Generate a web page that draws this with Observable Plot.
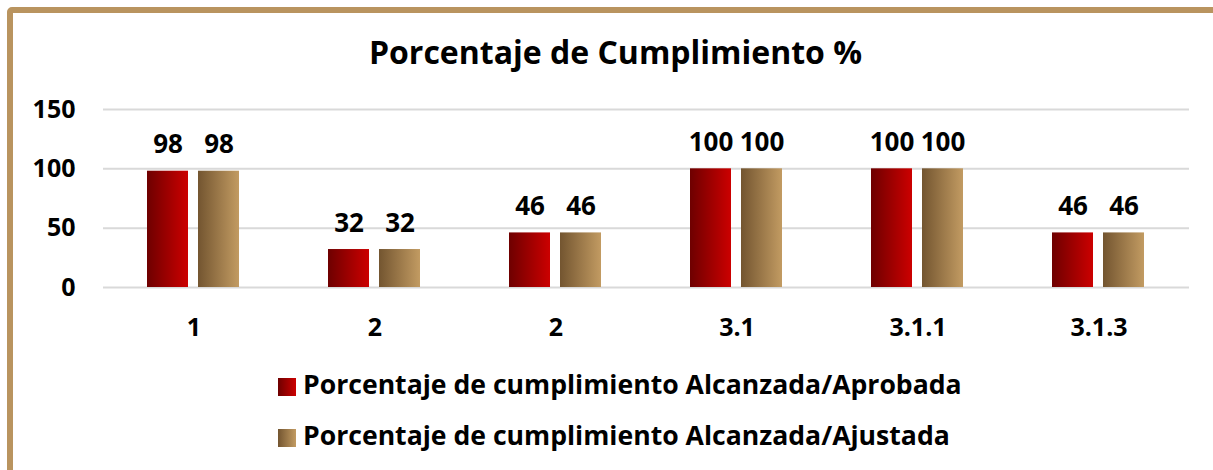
<!DOCTYPE html>
<html>
<head>
<meta charset="utf-8">
<script src="https://cdn.jsdelivr.net/npm/d3@7"></script>
<script src="https://cdn.jsdelivr.net/npm/@observablehq/plot@0.6"></script>
<style>
  html, body { margin: 0; padding: 0; background: #fff; width: 1213px; height: 470px; overflow: hidden; }
  body { position: relative; font-family: "Open Sans", "Noto Sans", sans-serif; font-weight: 700; color: #000; }
  #frame { position: absolute; left: 7px; top: 7px; width: 1300px; height: 600px; border: 6px solid #B9945F; border-radius: 5px; box-sizing: border-box; }
  #title { position: absolute; left: 9px; width: 1213px; top: 32px; text-align: center; font-size: 32px; line-height: 40px; }
  #chart { position: absolute; left: 0; top: 0; }
  .leg { position: absolute; left: 278px; font-size: 26.6px; line-height: 30px; white-space: nowrap; }
  .sw { position: absolute; left: 0; width: 18px; height: 18px; }
  .lt { position: absolute; left: 25px; top: 0; }
</style>
</head>
<body>
<div id="frame"></div>
<div id="title">Porcentaje de Cumplimiento %</div>
<div id="chart"></div>
<div id="legend"></div>
<script>
const categories = ["1", "2", "2", "3.1", "3.1.1", "3.1.3"];
const seriesNames = [
  "Porcentaje de cumplimiento Alcanzada/Aprobada",
  "Porcentaje de cumplimiento Alcanzada/Ajustada"
];
const aprobada = [98, 32, 46, 100, 100, 46];
const ajustada = [98, 32, 46, 100, 100, 46];
const yTicks = [0, 50, 100, 150];
const gradients = [
  { id: "gR", from: "#6E0000", to: "#CC0000" },
  { id: "gT", from: "#735530", to: "#C29B62" }
];

const data = categories.flatMap((c, i) => [
  { i, s: seriesNames[0], v: aprobada[i] },
  { i, s: seriesNames[1], v: ajustada[i] }
]);

const plot = Plot.plot({
  width: 1213,
  height: 360,
  marginTop: 109,
  marginBottom: 73,
  marginLeft: 100,
  marginRight: 22,
  style: { fontFamily: "Open Sans", fontWeight: 700, fontSize: "25px", color: "#000", background: "transparent", overflow: "visible" },
  fx: { domain: d3.range(categories.length), padding: 0, tickSize: 0, tickPadding: 31, tickFormat: i => categories[i], label: null },
  x: { domain: seriesNames, axis: null, paddingInner: 0.1923, paddingOuter: 0.846 },
  y: { domain: [0, 150], ticks: yTicks, tickSize: 0, tickPadding: 28, label: null },
  color: { domain: seriesNames, range: gradients.map(g => `url(#${g.id})`) },
  marks: [
    Plot.ruleY(yTicks, { stroke: "#D9D9D9", strokeWidth: 2 }),
    Plot.barY(data, { fx: "i", x: "s", y: "v", fill: "s" }),
    Plot.text(data, { fx: "i", x: "s", y: "v", text: d => String(d.v), lineAnchor: "bottom", dy: -18, fontSize: 26, fontWeight: 700, fill: "#000" })
  ]
});

const svg = d3.select(plot);
const defs = svg.insert("defs", ":first-child");
gradients.forEach(g => {
  const lg = defs.append("linearGradient").attr("id", g.id).attr("x1", "0").attr("x2", "1").attr("y1", "0").attr("y2", "0");
  lg.append("stop").attr("offset", "0").attr("stop-color", g.from);
  lg.append("stop").attr("offset", "1").attr("stop-color", g.to);
});
document.getElementById("chart").appendChild(plot);

const legend = document.getElementById("legend");
const legTops = [369, 420];
seriesNames.forEach((name, k) => {
  const row = document.createElement("div");
  row.className = "leg";
  row.style.top = legTops[k] + "px";
  const sw = document.createElement("div");
  sw.className = "sw";
  sw.style.top = "9px";
  sw.style.background = `linear-gradient(to right, ${gradients[k].from}, ${gradients[k].to})`;
  const t = document.createElement("div");
  t.className = "lt";
  t.textContent = name;
  row.appendChild(sw);
  row.appendChild(t);
  legend.appendChild(row);
});
</script>
</body>
</html>
